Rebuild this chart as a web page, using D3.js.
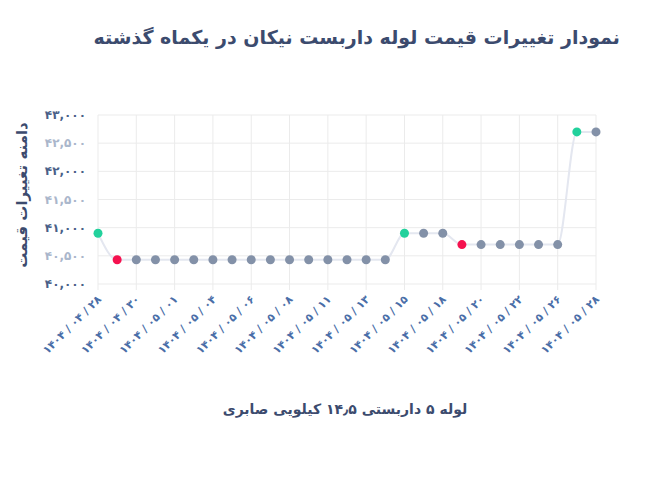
<!DOCTYPE html>
<html><head><meta charset="utf-8">
<script src="https://cdn.jsdelivr.net/npm/d3@7"></script>
<style>body{margin:0;background:#fff}text{font-family:"DejaVu Sans",sans-serif}</style>
</head><body><svg id="c" width="663" height="477"></svg>
<script>
const dates=["۱۴۰۴ / ۰۴ / ۲۸","۱۴۰۴ / ۰۴ / ۲۹","۱۴۰۴ / ۰۴ / ۳۰","۱۴۰۴ / ۰۴ / ۳۱","۱۴۰۴ / ۰۵ / ۰۱","۱۴۰۴ / ۰۵ / ۰۲","۱۴۰۴ / ۰۵ / ۰۴","۱۴۰۴ / ۰۵ / ۰۵","۱۴۰۴ / ۰۵ / ۰۶","۱۴۰۴ / ۰۵ / ۰۷","۱۴۰۴ / ۰۵ / ۰۸","۱۴۰۴ / ۰۵ / ۰۹","۱۴۰۴ / ۰۵ / ۱۱","۱۴۰۴ / ۰۵ / ۱۲","۱۴۰۴ / ۰۵ / ۱۳","۱۴۰۴ / ۰۵ / ۱۴","۱۴۰۴ / ۰۵ / ۱۵","۱۴۰۴ / ۰۵ / ۱۶","۱۴۰۴ / ۰۵ / ۱۸","۱۴۰۴ / ۰۵ / ۱۹","۱۴۰۴ / ۰۵ / ۲۰","۱۴۰۴ / ۰۵ / ۲۱","۱۴۰۴ / ۰۵ / ۲۲","۱۴۰۴ / ۰۵ / ۲۵","۱۴۰۴ / ۰۵ / ۲۶","۱۴۰۴ / ۰۵ / ۲۷","۱۴۰۴ / ۰۵ / ۲۸"];
const prices=[40900,40430,40430,40430,40430,40430,40430,40430,40430,40430,40430,40430,40430,40430,40430,40430,40900,40900,40900,40700,40700,40700,40700,40700,40700,42700,42700];
const yTicks=[40000,40500,41000,41500,42000,42500,43000];
const yTickLabels=["۴۰,۰۰۰","۴۰,۵۰۰","۴۱,۰۰۰","۴۱,۵۰۰","۴۲,۰۰۰","۴۲,۵۰۰","۴۳,۰۰۰"];
const title="نمودار تغییرات قیمت لوله داربست نیکان در یکماه گذشته";
const xTitle="لوله ۵ داربستی ۱۴٫۵ کیلویی صابری";
const yTitle="دامنه تغییرات قیمت";

const svg=d3.select("#c");
const x=d3.scalePoint().domain(d3.range(dates.length)).range([98,596]);
const y=d3.scaleLinear().domain([40000,43000]).range([284,115]);
const g=svg.append("g");
const xt=d3.range(0,dates.length,2);
g.selectAll(".hg").data(yTicks).join("line").attr("x1",98).attr("x2",596).attr("y1",d=>y(d)).attr("y2",d=>y(d)).attr("stroke","#ebebeb");
g.selectAll(".vg").data(xt).join("line").attr("x1",d=>x(d)).attr("x2",d=>x(d)).attr("y1",115).attr("y2",290).attr("stroke","#ebebeb");
g.selectAll(".yl").data(yTicks).join("text").attr("x",86).attr("y",d=>y(d)+4).attr("text-anchor","end")
 .attr("font-size",12).attr("font-weight","bold").attr("fill",(d,i)=>i%2?"#aab6cb":"#4a5f88").text((d,i)=>yTickLabels[i]);
g.selectAll(".xl").data(xt).join("text").attr("transform",d=>`translate(${x(d)+4},${300}) rotate(-45)`)
 .attr("text-anchor","end").attr("direction","ltr").attr("font-size",11).attr("font-weight","bold").attr("fill","#4a6ea8").text(d=>dates[d]);
g.append("path").datum(prices).attr("fill","none").attr("stroke","#e4e7f0").attr("stroke-width",2)
 .attr("d",d3.line().x((d,i)=>x(i)).y(d=>y(d)).curve(d3.curveMonotoneX));
const col=(d,i)=>{if(i===0)return "#22d19c";const p=prices[i-1];return d>p?"#22d19c":d<p?"#f5124f":"#8391a8";};
g.selectAll(".pt").data(prices).join("circle").attr("cx",(d,i)=>x(i)).attr("cy",d=>y(d)).attr("r",4.5).attr("fill",col);
svg.append("text").attr("x",620).attr("y",44).attr("text-anchor","start").attr("direction","rtl").attr("font-size",19).attr("font-weight","bold").attr("fill","#3c4b6e").text(title);
svg.append("text").attr("x",345).attr("y",414).attr("text-anchor","middle").attr("direction","rtl").attr("font-size",14).attr("font-weight","bold").attr("fill","#3c4b6e").text(xTitle);
svg.append("text").attr("transform","translate(27,195) rotate(-90)").attr("text-anchor","middle").attr("direction","rtl").attr("font-size",15).attr("font-weight","bold").attr("fill","#3c4b6e").text(yTitle);
</script></body></html>
